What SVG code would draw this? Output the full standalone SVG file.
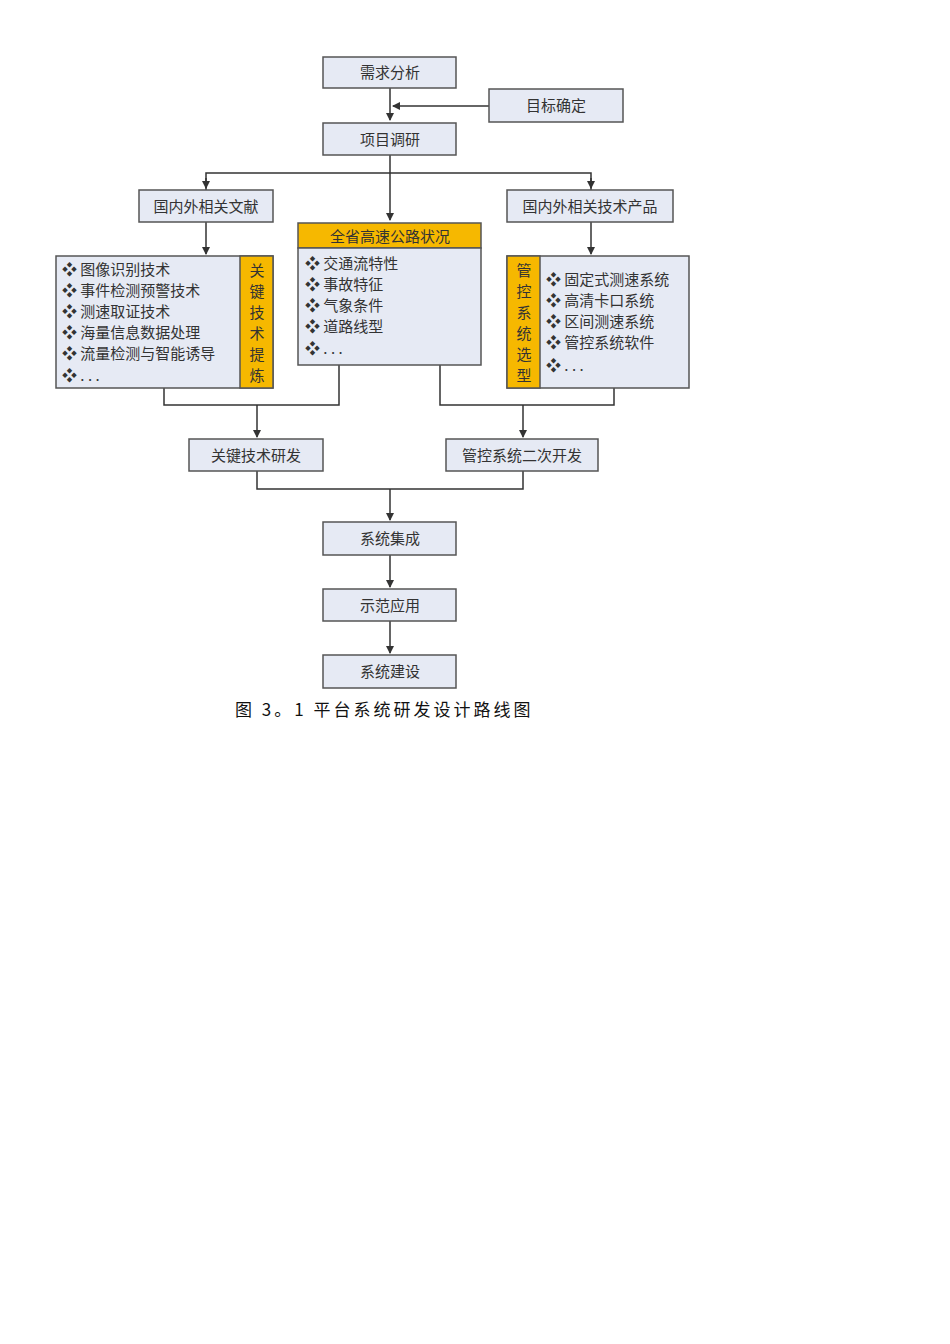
<svg xmlns="http://www.w3.org/2000/svg" width="950" height="1344" viewBox="0 0 950 1344">
<defs>
<style>
.b{fill:#e6eaf4;stroke:#555;stroke-width:1.5}
.o{fill:#f6b800;stroke:#555;stroke-width:1.5}
.t{font-family:"Noto Sans CJK SC",sans-serif;font-size:15px;fill:#333}
.c{text-anchor:middle}
.l{fill:none;stroke:#333;stroke-width:1.5}
</style>
<marker id="a" markerWidth="8" markerHeight="8" refX="7" refY="4" orient="auto" markerUnits="userSpaceOnUse"><path d="M0,0L8,4L0,8z" fill="#333"/></marker>
</defs>
<rect width="950" height="1344" fill="#fff"/>
<g id="connectors" class="l">
<path class="l" d="M390,88V120" marker-end="url(#a)"/>
<path class="l" d="M489,106H393" marker-end="url(#a)"/>
<path class="l" d="M390,155V220" marker-end="url(#a)"/>
<path class="l" d="M206,190V173H591V190" />
<path class="l" d="M206,178V188" marker-end="url(#a)"/>
<path class="l" d="M591,178V188" marker-end="url(#a)"/>
<path class="l" d="M206,222V254" marker-end="url(#a)"/>
<path class="l" d="M591,222V254" marker-end="url(#a)"/>
<path class="l" d="M164,388V405H339V365"/>
<path class="l" d="M257,405V437" marker-end="url(#a)"/>
<path class="l" d="M440,365V405H614V388"/>
<path class="l" d="M523,405V437" marker-end="url(#a)"/>
<path class="l" d="M257,471V489H523V471"/>
<path class="l" d="M390,489V520" marker-end="url(#a)"/>
<path class="l" d="M390,555V587" marker-end="url(#a)"/>
<path class="l" d="M390,621V653" marker-end="url(#a)"/>
</g>
<g id="n1"><rect class="b" x="323" y="57" width="133" height="31"/><text class="t c" x="390" y="78">需求分析</text></g>
<g id="n2"><rect class="b" x="489" y="89" width="134" height="33"/><text class="t c" x="556" y="111">目标确定</text></g>
<g id="n3"><rect class="b" x="323" y="123" width="133" height="32"/><text class="t c" x="390" y="145">项目调研</text></g>
<g id="n4"><rect class="b" x="139" y="190" width="134" height="32"/><text class="t c" x="206" y="212">国内外相关文献</text></g>
<g id="n5"><rect class="b" x="507" y="190" width="166" height="32"/><text class="t c" x="590" y="212">国内外相关技术产品</text></g>
<g id="n6"><rect class="o" x="298" y="223" width="183" height="25"/><text class="t c" x="390" y="242">全省高速公路状况</text>
<rect class="b" x="298" y="248" width="183" height="117"/>
<text class="t" x="305" y="269">❖ 交通流特性</text><text class="t" x="305" y="290">❖ 事故特征</text><text class="t" x="305" y="311">❖ 气象条件</text><text class="t" x="305" y="332">❖ 道路线型</text><text class="t" x="305" y="354">❖ . . .</text></g>
<g id="n7"><rect class="b" x="56" y="256" width="217" height="132"/><rect class="o" x="240" y="256" width="33" height="132"/>
<text class="t" x="62" y="275">❖ 图像识别技术</text><text class="t" x="62" y="296">❖ 事件检测预警技术</text><text class="t" x="62" y="317">❖ 测速取证技术</text><text class="t" x="62" y="338">❖ 海量信息数据处理</text><text class="t" x="62" y="359">❖ 流量检测与智能诱导</text><text class="t" x="62" y="381">❖ . . .</text>
<text class="t c" x="257" y="276">关</text><text class="t c" x="257" y="297">键</text><text class="t c" x="257" y="318">技</text><text class="t c" x="257" y="339">术</text><text class="t c" x="257" y="360">提</text><text class="t c" x="257" y="381">炼</text></g>
<g id="n8"><rect class="b" x="507" y="256" width="182" height="132"/><rect class="o" x="507" y="256" width="33" height="132"/>
<text class="t c" x="524" y="276">管</text><text class="t c" x="524" y="297">控</text><text class="t c" x="524" y="318">系</text><text class="t c" x="524" y="339">统</text><text class="t c" x="524" y="360">选</text><text class="t c" x="524" y="381">型</text>
<text class="t" x="546" y="285">❖ 固定式测速系统</text><text class="t" x="546" y="306">❖ 高清卡口系统</text><text class="t" x="546" y="327">❖ 区间测速系统</text><text class="t" x="546" y="348">❖ 管控系统软件</text><text class="t" x="546" y="371">❖ . . .</text></g>
<g id="n9"><rect class="b" x="189" y="439" width="134" height="32"/><text class="t c" x="256" y="461">关键技术研发</text></g>
<g id="n10"><rect class="b" x="446" y="439" width="152" height="32"/><text class="t c" x="522" y="461">管控系统二次开发</text></g>
<g id="n11"><rect class="b" x="323" y="522" width="133" height="33"/><text class="t c" x="390" y="544">系统集成</text></g>
<g id="n12"><rect class="b" x="323" y="589" width="133" height="32"/><text class="t c" x="390" y="611">示范应用</text></g>
<g id="n13"><rect class="b" x="323" y="655" width="133" height="33"/><text class="t c" x="390" y="677">系统建设</text></g>
<text x="235" y="716" style="font-family:'Noto Sans CJK SC',sans-serif;font-size:17px;letter-spacing:3px" fill="#111">图 3。1 平台系统研发设计路线图</text>
</svg>
